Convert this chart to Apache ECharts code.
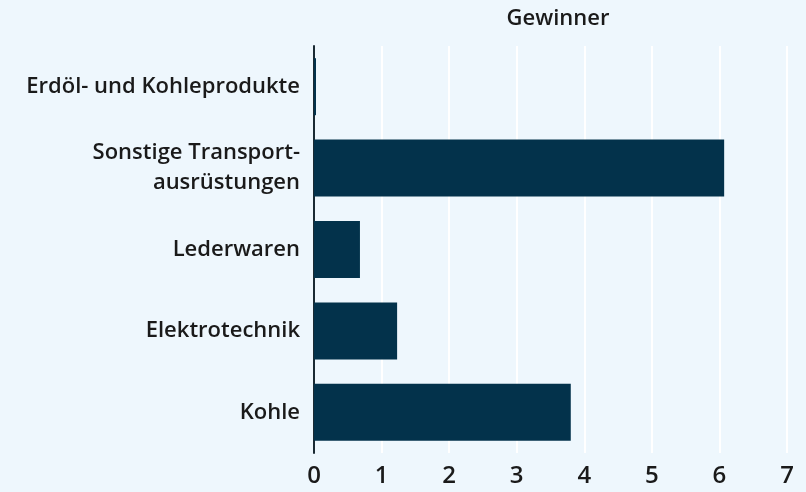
<!DOCTYPE html>
<html>
<head>
<meta charset="utf-8">
<script src="https://cdn.jsdelivr.net/npm/echarts@6/dist/echarts.min.js"></script>
<style>
  html, body { margin: 0; padding: 0; background: #eef7fd; }
  #chart { width: 806px; height: 492px; }
</style>
</head>
<body>
<div id="chart"></div>
<script>
const categories = ["Erdöl- und Kohleprodukte", "Sonstige Transport-\nausrüstungen", "Lederwaren", "Elektrotechnik", "Kohle"];
const values = [0.03, 6.07, 0.68, 1.23, 3.8];
const tickLabels = [0, 1, 2, 3, 4, 5, 6, 7];

const chart = echarts.init(document.getElementById("chart"));
chart.setOption({
  backgroundColor: "#eef7fd",
  textStyle: { fontFamily: "Open Sans" },
  title: {
    text: "Gewinner",
    left: 553,
    textAlign: "center",
    top: 3,
    textStyle: { fontSize: 22, fontWeight: 600, color: "#1a1a1a", fontFamily: "Open Sans" }
  },
  grid: { left: 314, right: 19, top: 46, bottom: 39 },
  xAxis: {
    type: "value",
    min: tickLabels[0],
    max: tickLabels[tickLabels.length - 1],
    interval: 1,
    axisLine: { show: false },
    axisTick: { show: false },
    splitLine: { show: true, lineStyle: { color: "#ffffff", width: 2 } },
    axisLabel: { fontSize: 24, fontWeight: 600, color: "#1a1a1a", margin: 11 }
  },
  yAxis: {
    type: "category",
    data: categories,
    inverse: true,
    axisLine: { show: true, lineStyle: { color: "#1a2a33", width: 2 } },
    axisTick: { show: false },
    axisLabel: { fontSize: 22, fontWeight: 600, color: "#1a1a1a", margin: 14, lineHeight: 30, align: "right" }
  },
  series: [{
    type: "bar",
    data: values,
    barCategoryGap: "30%",
    itemStyle: { color: "#03324b" }
  }]
});
</script>
</body>
</html>
